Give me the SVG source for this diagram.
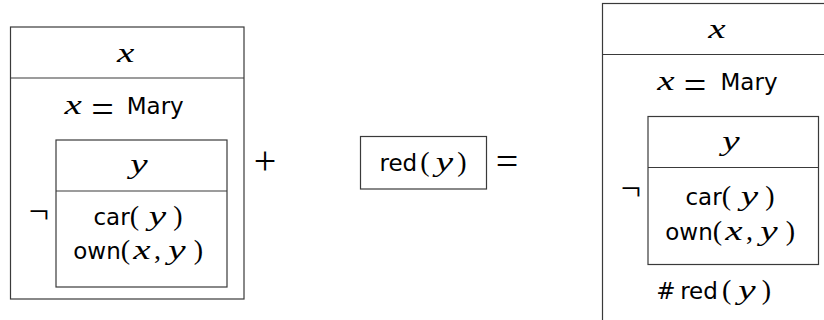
<svg xmlns="http://www.w3.org/2000/svg" width="824" height="320" viewBox="0 0 824 320">
<style>
text{fill:#000;text-anchor:middle}
.w{font-family:"DejaVu Sans",sans-serif;font-size:23px}
.m{font-family:"Liberation Serif",serif;font-style:italic;font-size:28px}
.p{font-family:"Liberation Serif",serif;font-size:28px}
.neg{font-family:"Liberation Serif",serif;font-size:36px}
.plus{font-family:"Liberation Serif",serif;font-size:40px}
.eq{font-family:"Liberation Serif",serif;font-size:40px}
.box{fill:none;stroke:#3a3a3a;stroke-width:1.2}
</style>
<rect width="824" height="320" fill="#fff"/>
<g id="drs-left">
  <rect class="box" x="10.5" y="27" width="233.5" height="272"/>
  <line class="box" x1="10.5" y1="78" x2="244" y2="78"/>
  <text class="m" transform="translate(125.8,62) scale(1.4,1)">x</text>
  <text class="m" transform="translate(73.3,114) scale(1.4,1)">x</text>
  <text class="eq" x="102.5" y="122.5">=</text>
  <text class="w" x="155.2" y="114">Mary</text>
  <text class="neg" x="39" y="223">¬</text>
</g>
<g id="drs-left-inner">
  <rect class="box" x="56" y="140" width="171" height="147"/>
  <line class="box" x1="56" y1="191" x2="227" y2="191"/>
  <text class="m" transform="translate(139,173) scale(1.4,1)">y</text>
  <text class="w" x="111.5" y="224.5">car</text>
  <text class="p" x="134.5" y="224.5">(</text>
  <text class="m" transform="translate(157.5,224.5) scale(1.4,1)">y</text>
  <text class="p" x="178" y="224.5">)</text>
  <text class="w" x="97" y="258.5">own</text>
  <text class="p" x="125.5" y="258.5">(</text>
  <text class="m" transform="translate(142,258.5) scale(1.4,1)">x</text>
  <text class="p" x="157.5" y="258.5">,</text>
  <text class="m" transform="translate(177,258.5) scale(1.4,1)">y</text>
  <text class="p" x="198.5" y="258.5">)</text>
</g>
<g id="op-plus">
  <text class="plus" x="265" y="174">+</text>
</g>
<g id="red">
  <rect class="box" x="360.5" y="136.5" width="126" height="52.5"/>
  <text class="w" x="398.3" y="171">red</text>
  <text class="p" x="425" y="171">(</text>
  <text class="m" transform="translate(444.5,171) scale(1.4,1)">y</text>
  <text class="p" x="462" y="171">)</text>
</g>
<g id="op-eq">
  <text class="eq" x="507" y="175">=</text>
</g>
<g id="drs-right">
  <rect class="box" x="602.5" y="3.5" width="233.5" height="330"/>
  <line class="box" x1="602.5" y1="54.5" x2="836" y2="54.5"/>
  <text class="m" transform="translate(717,38) scale(1.4,1)">x</text>
  <text class="m" transform="translate(666,90) scale(1.4,1)">x</text>
  <text class="eq" x="695" y="98.5">=</text>
  <text class="w" x="749" y="90">Mary</text>
  <text class="neg" x="631" y="200">¬</text>
  <text class="w" x="665.8" y="299">#</text>
  <text class="w" x="699" y="299">red</text>
  <text class="p" x="726.7" y="299">(</text>
  <text class="m" transform="translate(747,299) scale(1.4,1)">y</text>
  <text class="p" x="766.5" y="299">)</text>
</g>
<g id="drs-right-inner">
  <rect class="box" x="648" y="116.5" width="170.5" height="148"/>
  <line class="box" x1="648" y1="167.5" x2="818.5" y2="167.5"/>
  <text class="m" transform="translate(731,149.5) scale(1.4,1)">y</text>
  <text class="w" x="703.5" y="205">car</text>
  <text class="p" x="726.5" y="205">(</text>
  <text class="m" transform="translate(749.5,205) scale(1.4,1)">y</text>
  <text class="p" x="770" y="205">)</text>
  <text class="w" x="689" y="240">own</text>
  <text class="p" x="717.5" y="240">(</text>
  <text class="m" transform="translate(734,240) scale(1.4,1)">x</text>
  <text class="p" x="749.5" y="240">,</text>
  <text class="m" transform="translate(769,240) scale(1.4,1)">y</text>
  <text class="p" x="790.5" y="240">)</text>
</g>
<g id="connectors"></g>
</svg>
